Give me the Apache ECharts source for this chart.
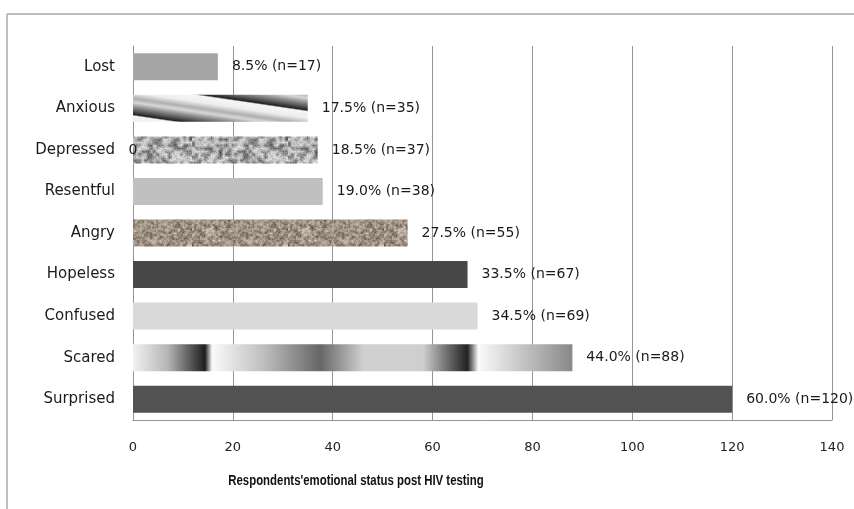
<!DOCTYPE html>
<html lang="en">
<head>
<meta charset="utf-8">
<title>Respondents' emotional status post HIV testing</title>
<script src="https://cdn.jsdelivr.net/npm/echarts@6/dist/echarts.min.js"></script>
<style>
  html, body { margin: 0; padding: 0; background: #fff; }
  #chart { width: 854px; height: 509px; }
</style>
</head>
<body>
<div id="chart"></div>
<script>
// data (n out of 200 respondents)
var categories = ['Lost', 'Anxious', 'Depressed', 'Resentful', 'Angry', 'Hopeless', 'Confused', 'Scared', 'Surprised'];
var counts = [17, 35, 37, 38, 55, 67, 69, 88, 120];
var percents = ['8.5%', '17.5%', '18.5%', '19.0%', '27.5%', '33.5%', '34.5%', '44.0%', '60.0%'];
// stray "0" label that sits on the Depressed row
var strayZero = ['-', '-', 0, '-', '-', '-', '-', '-', '-'];
var axisMin = 0, axisMax = 140, axisStep = 20;
var titleText = "Respondents'emotional status post HIV testing";

// small seeded generator, only for the bar textures
function rng(seed) {
  return function () {
    seed |= 0; seed = seed + 0x6D2B79F5 | 0;
    var t = Math.imul(seed ^ seed >>> 15, 1 | seed);
    t = t + Math.imul(t ^ t >>> 7, 61 | t) ^ t;
    return ((t ^ t >>> 14) >>> 0) / 4294967296;
  };
}
function mix(a, b, f) {
  return [a[0] + (b[0] - a[0]) * f, a[1] + (b[1] - a[1]) * f, a[2] + (b[2] - a[2]) * f];
}
function ramp(stops, t) {
  for (var i = 1; i < stops.length; i++) {
    if (t <= stops[i][0]) {
      var f = (t - stops[i - 1][0]) / (stops[i][0] - stops[i - 1][0]);
      return mix(stops[i - 1][1], stops[i][1], f);
    }
  }
  return stops[stops.length - 1][1];
}

// speckled / granite texture
function noiseTexture(size, cell, seed, stops) {
  var r = rng(seed);
  var s = Math.ceil(size / cell);
  var small = document.createElement('canvas');
  small.width = s; small.height = s;
  var sc = small.getContext('2d');
  var img = sc.createImageData(s, s);
  for (var i = 0; i < s * s; i++) {
    var v = (r() + r() + r()) / 3;
    var c = ramp(stops, v);
    img.data[i * 4] = c[0]; img.data[i * 4 + 1] = c[1]; img.data[i * 4 + 2] = c[2]; img.data[i * 4 + 3] = 255;
  }
  sc.putImageData(img, 0, 0);
  var big = document.createElement('canvas');
  big.width = size; big.height = size;
  var bc = big.getContext('2d');
  bc.imageSmoothingEnabled = true;
  bc.drawImage(small, 0, 0, size, size);
  // fine grain on top
  var g = bc.getImageData(0, 0, size, size);
  for (var j = 0; j < size * size; j++) {
    var d = (r() - 0.5) * 40;
    g.data[j * 4] += d; g.data[j * 4 + 1] += d; g.data[j * 4 + 2] += d;
  }
  bc.putImageData(g, 0, 0);
  return big;
}

// slanted wavy stripes for "Anxious" (tile repeats from the canvas origin)
function stripeTexture(shift) {
  var W = 204, H = 30;
  var cv = document.createElement('canvas');
  cv.width = W; cv.height = H;
  var ctx = cv.getContext('2d');
  var img = ctx.createImageData(W, H);
  var prof = [
    [0, [34, 34, 34]], [1.5, [245, 245, 245]], [8, [238, 238, 238]],
    [14, [175, 175, 175]], [18, [215, 215, 215]], [22, [150, 150, 150]],
    [27, [80, 80, 80]], [30, [34, 34, 34]]
  ];
  for (var y = 0; y < H; y++) {
    for (var x = 0; x < W; x++) {
      var t = ((y - shift - x * H / W) % H + H) % H;
      var c = ramp(prof, t);
      var k = (y * W + x) * 4;
      img.data[k] = c[0]; img.data[k + 1] = c[1]; img.data[k + 2] = c[2]; img.data[k + 3] = 255;
    }
  }
  ctx.putImageData(img, 0, 0);
  return cv;
}

var barFills = [
  '#a6a6a6',
  { image: stripeTexture(4.5), repeat: 'repeat' },
  { image: noiseTexture(96, 3, 7, [[0, [70, 70, 70]], [0.35, [120, 120, 120]], [0.5, [195, 195, 195]], [1, [240, 240, 240]]]), repeat: 'repeat' },
  '#c0c0c0',
  { image: noiseTexture(96, 2, 21, [[0, [80, 66, 55]], [0.4, [140, 126, 112]], [0.55, [172, 160, 146]], [1, [225, 215, 204]]]), repeat: 'repeat' },
  '#474747',
  '#d9d9d9',
  {
    type: 'linear', x: 0, y: 0, x2: 1, y2: 0,
    colorStops: [
      { offset: 0, color: '#f2f2f2' }, { offset: 0.08, color: '#b4b4b4' },
      { offset: 0.164, color: '#1e1e1e' }, { offset: 0.18, color: '#fafafa' },
      { offset: 0.3, color: '#bdbdbd' }, { offset: 0.426, color: '#666666' },
      { offset: 0.524, color: '#cfcfcf' }, { offset: 0.66, color: '#cfcfcf' },
      { offset: 0.71, color: '#777777' }, { offset: 0.761, color: '#222222' },
      { offset: 0.786, color: '#fafafa' }, { offset: 1, color: '#888888' }
    ]
  },
  '#525252'
];

var barData = counts.map(function (v, i) {
  return { value: v, itemStyle: { color: barFills[i] } };
});

var font = '"DejaVu Sans", "Liberation Sans", sans-serif';
var chart = echarts.init(document.getElementById('chart'));
chart.setOption({
  animation: false,
  backgroundColor: '#fff',
  grid: { left: 133, right: 22, top: 46, bottom: 89 },
  xAxis: {
    type: 'value',
    min: axisMin, max: axisMax, interval: axisStep,
    axisLine: { show: true, lineStyle: { color: '#949494', width: 1 } },
    axisTick: { show: false },
    splitLine: { show: true, lineStyle: { color: '#949494', width: 1 } },
    axisLabel: { color: '#222', fontFamily: font, fontSize: 13, margin: 21 }
  },
  yAxis: {
    type: 'category',
    data: categories,
    inverse: true,
    axisLine: { show: true, lineStyle: { color: '#949494', width: 1 } },
    axisTick: { show: false },
    axisLabel: { color: '#1a1a1a', fontFamily: font, fontSize: 15, margin: 18 }
  },
  series: [
    {
      type: 'bar',
      data: barData,
      barCategoryGap: '35%',
      label: {
        show: true,
        position: 'right',
        distance: 14,
        color: '#1a1a1a',
        fontFamily: font,
        fontSize: 14,
        formatter: function (p) { return percents[p.dataIndex] + ' (n=' + p.value + ')'; }
      }
    },
    {
      type: 'bar',
      data: strayZero,
      barGap: '-100%',
      barCategoryGap: '35%',
      itemStyle: { color: 'transparent' },
      label: {
        show: true, position: 'inside', color: '#1a1a1a',
        fontFamily: font, fontSize: 14, formatter: '0'
      },
      z: 3
    }
  ],
  graphic: [
    { type: 'line', shape: { x1: 7, y1: 14, x2: 854, y2: 14 }, style: { stroke: '#aaa', lineWidth: 1.5 } },
    { type: 'line', shape: { x1: 7, y1: 14, x2: 7, y2: 509 }, style: { stroke: '#aaa', lineWidth: 1.5 } },
    {
      type: 'text', x: 356, y: 481, scaleX: 0.76,
      style: {
        text: titleText, align: 'center', verticalAlign: 'middle',
        font: 'bold 15px "Liberation Sans", sans-serif', fill: '#111'
      }
    }
  ]
});
</script>
</body>
</html>
